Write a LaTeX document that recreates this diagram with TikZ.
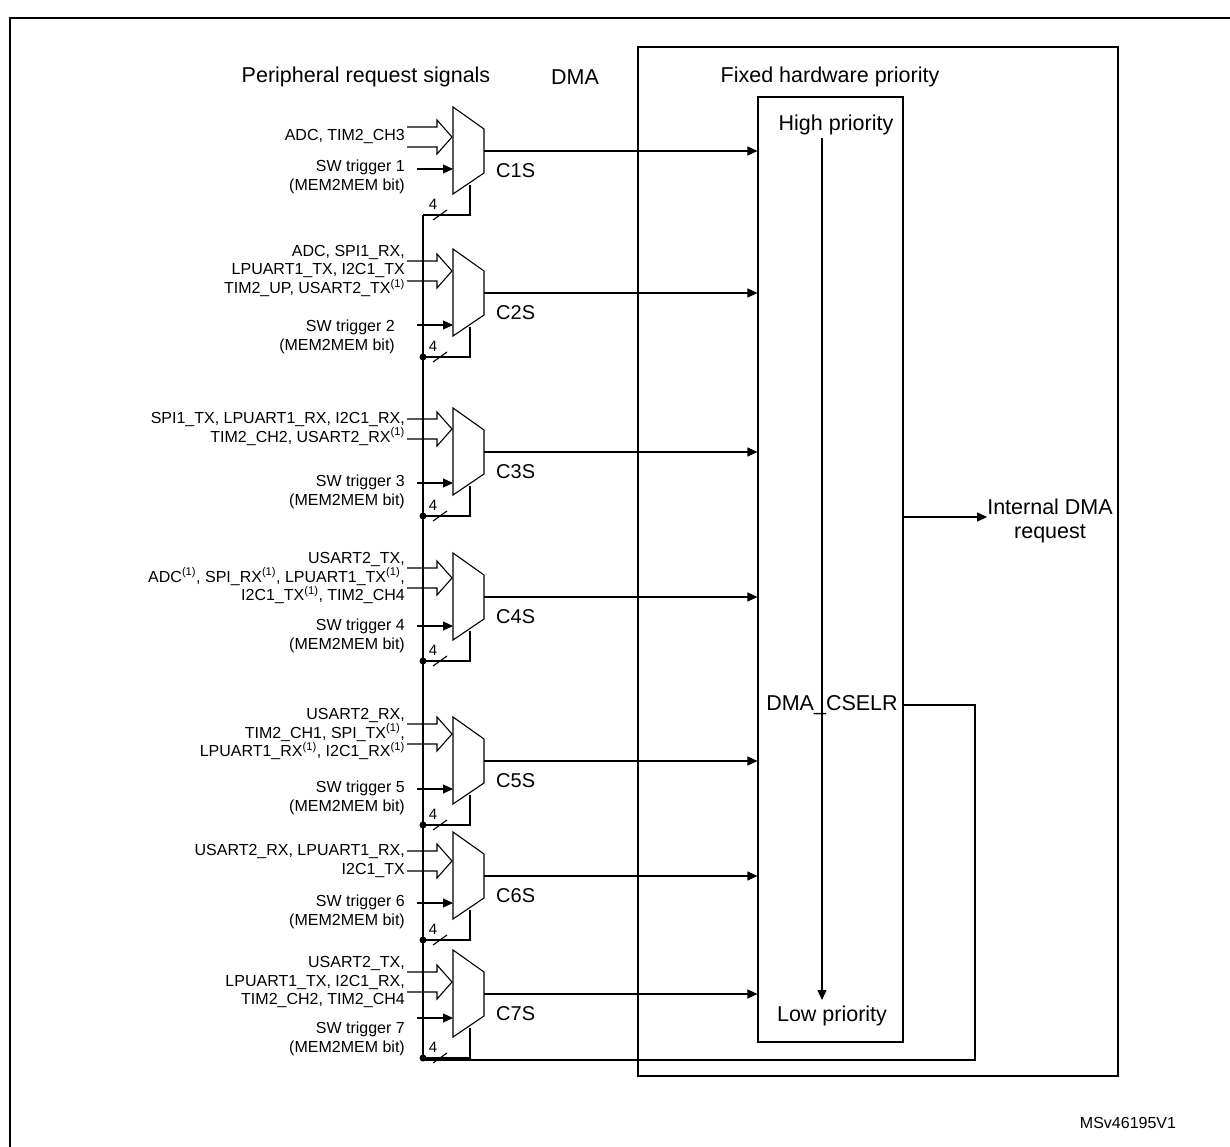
\documentclass[tikz,border=0pt]{standalone}
\usepackage{fontspec}
\setmainfont{Liberation Sans}
\usetikzlibrary{calc}
\usetikzlibrary{arrows.meta}
\tikzset{
  sig/.style={line width=1.1pt,-{Triangle[length=10pt,width=9pt]}},
  wire/.style={line width=1.1pt},
  lbl/.style={font=\fontsize{16}{18.5}\selectfont,align=right,anchor=east,inner sep=0pt},
  big/.style={font=\fontsize{21.5}{24}\selectfont,inner sep=0pt},
}
\newcommand{\mux}[5]{% name, top, bus centre, sw y, label
 \draw[wire] (453,#2) -- (484,#2+22) -- (484,#2+66) -- (453,#2+87) -- cycle;
 \coordinate (#1o) at (484,#2+44);
 \coordinate (#1s) at (470,#2+78);
 \coordinate (#1b) at (423,#2+108);
 \draw[wire] (407,#3-10) -- (437,#3-10) -- (437,#3-17) -- (452,#3) -- (437,#3+17) -- (437,#3+10) -- (407,#3+10);
 \coordinate (#1w) at (417,#4);
 \draw[sig] (#1w) -- (453,#4);
 \draw[wire] (#1s) |- (#1b);
 \draw[wire] (433,#2+113) -- (447,#2+103);
 \node[font=\fontsize{15}{17}\selectfont,inner sep=0pt] (#1n) at (433,#2+97) {4};
 \node[font=\fontsize{20}{22}\selectfont,inner sep=0pt,anchor=north west] (#1l) at (496,#2+56) {#5};
}
\begin{document}
\begin{tikzpicture}[x=1pt,y=-1pt]
        \useasboundingbox (0,0) rectangle (1230,1147);
        % frames
        \draw[wire] (10,18) rectangle (1250,1170);
        \draw[wire] (638,47) rectangle (1118,1076);
        \node[draw,line width=1.1pt,minimum width=145pt,minimum height=945pt,inner sep=0pt] (prio) at (830.5,569.5) {};
        % headings
        \node[big] (hreq) at (366,77) {Peripheral request signals};
        \node[big] (hdma) at (575,77) {DMA};
        \node[big] (hfix) at (830,77) {Fixed hardware priority};
        \node[big] (hhi) at (836,125) {High priority};
        \node[big] (hlo) at (832,1016) {Low priority};
        \draw[sig] (822,138) -- (822,1000);
        \node[big] (csel) at (832,705) {DMA\_CSELR};
        % muxes
        \mux{C1}{107}{137}{169}{C1S}
        \mux{C2}{249}{271}{325}{C2S}
        \mux{C3}{408}{429}{483}{C3S}
        \mux{C4}{553}{578}{626}{C4S}
        \mux{C5}{717}{734}{789}{C5S}
        \mux{C6}{832}{861}{903}{C6S}
        \mux{C7}{950}{982}{1018}{C7S}
        % input labels
        \node[lbl] (i1) at (405,137) {ADC, TIM2\_CH3};
        \node[lbl] (s1) at (405,177) {SW trigger 1\\(MEM2MEM bit)};
        \node[lbl] (i2) at (405,271) {ADC, SPI1\_RX,\\LPUART1\_TX, I2C1\_TX\\TIM2\_UP, USART2\_TX\textsuperscript{(1)}};
        \node[lbl] (s2) at (395,337) {SW trigger 2\\(MEM2MEM bit)};
        \node[lbl] (i3) at (405,429) {SPI1\_TX, LPUART1\_RX, I2C1\_RX,\\TIM2\_CH2, USART2\_RX\textsuperscript{(1)}};
        \node[lbl] (s3) at (405,492) {SW trigger 3\\(MEM2MEM bit)};
        \node[lbl] (i4) at (405,578) {USART2\_TX,\\ADC\textsuperscript{(1)}, SPI\_RX\textsuperscript{(1)}, LPUART1\_TX\textsuperscript{(1)},\\I2C1\_TX\textsuperscript{(1)}, TIM2\_CH4};
        \node[lbl] (s4) at (405,636) {SW trigger 4\\(MEM2MEM bit)};
        \node[lbl] (i5) at (405,734) {USART2\_RX,\\TIM2\_CH1, SPI\_TX\textsuperscript{(1)},\\LPUART1\_RX\textsuperscript{(1)}, I2C1\_RX\textsuperscript{(1)}};
        \node[lbl] (s5) at (405,798) {SW trigger 5\\(MEM2MEM bit)};
        \node[lbl] (i6) at (405,861) {USART2\_RX, LPUART1\_RX,\\I2C1\_TX};
        \node[lbl] (s6) at (405,912) {SW trigger 6\\(MEM2MEM bit)};
        \node[lbl] (i7) at (405,982) {USART2\_TX,\\LPUART1\_TX, I2C1\_RX,\\TIM2\_CH2, TIM2\_CH4};
        \node[lbl] (s7) at (405,1039) {SW trigger 7\\(MEM2MEM bit)};
        % outputs
        \foreach \c in {C1,C2,C3,C4,C5,C6,C7}
          \draw[sig] (\c o) -- (prio.west |- \c o);
        % select bus
        \coordinate (busend) at (423,1060);
        \coordinate (retn) at (975,1060);
        \draw[wire] (C1b) -- (busend) -- (retn) |- (prio.east |- csel);
        \foreach \c in {C2,C3,C4,C5,C6,C7}
          \fill (\c b) circle (3.5pt);
        % result
        \node[big,align=center] (req) at (1050,521) {Internal DMA\\request};
        \draw[sig] (prio.east |- 0,517) -- (req.west |- 0,517);
        \node[font=\fontsize{16}{18}\selectfont] (tag) at (1128,1123) {MSv46195V1};
\end{tikzpicture}
\end{document}
